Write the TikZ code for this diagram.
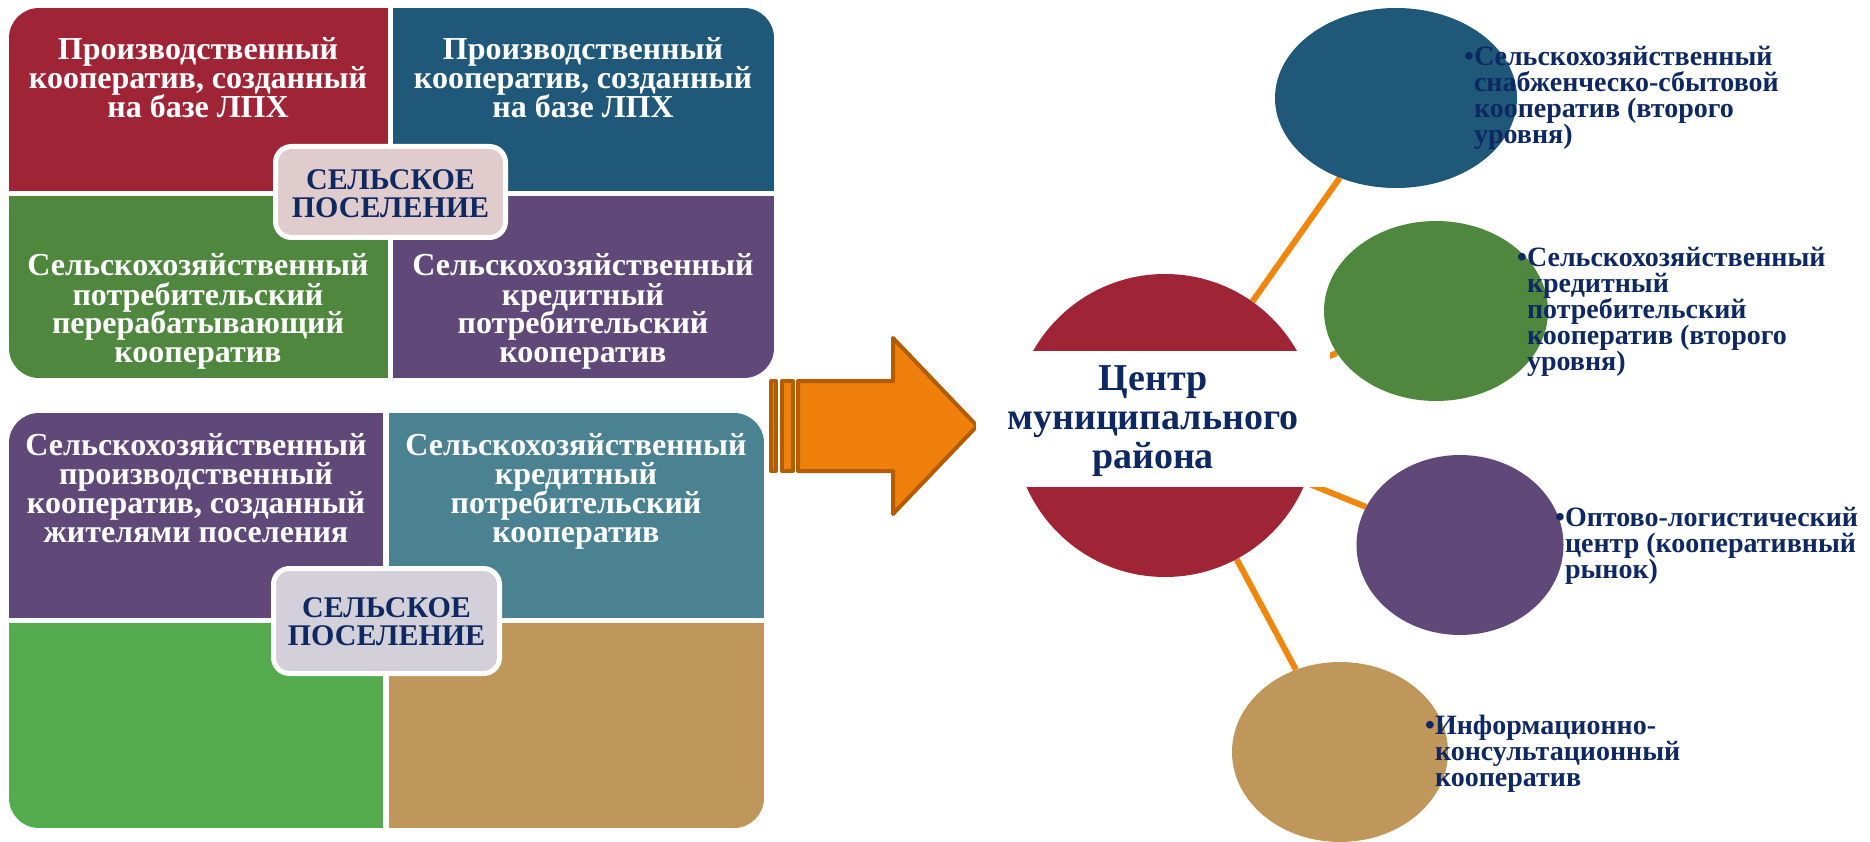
\documentclass[tikz,border=0pt]{standalone}
\usepackage{fontspec}
\setmainfont{Liberation Serif}
\usetikzlibrary{shapes.geometric}
\pgfdeclarelayer{bg}
\pgfsetlayers{bg,main}
\definecolor{cRed}{HTML}{9F2536}
\definecolor{cBlue}{HTML}{1F5879}
\definecolor{cGreen}{HTML}{4F873F}
\definecolor{cPurple}{HTML}{604878}
\definecolor{cTeal}{HTML}{4B8291}
\definecolor{cLime}{HTML}{55AC4E}
\definecolor{cTan}{HTML}{C0975A}
\definecolor{cPink}{HTML}{E1CCCD}
\definecolor{cGray}{HTML}{D3D0D9}
\definecolor{cNavy}{HTML}{0E2862}
\definecolor{cOrange}{HTML}{F0860C}
\definecolor{cArrow}{HTML}{EF800B}
\definecolor{cArrowEdge}{HTML}{B45C04}
\newcommand\ctext[1]{\vtop{\lineskiplimit=-100pt\lineskip=0pt\halign{\hfil##\hfil\cr#1\crcr}}}
\newcommand\ltext[1]{\vtop{\lineskiplimit=-100pt\lineskip=0pt\halign{##\hfil&##\hfil\cr#1\crcr}}}
\newcommand\lift[2]{\raisebox{#1}[0pt][0pt]{#2}}
\begin{document}
\begin{tikzpicture}[x=1pt,y=-1pt,
  boxtxt/.style={text=white,font=\bfseries\fontsize{32}{29}\selectfont,inner sep=0pt,anchor=base},
  lbl/.style={draw=white,line width=5pt,rounded corners=16pt,inner sep=0pt,text=cNavy,font=\bfseries\fontsize{30}{28}\selectfont},
  bubble/.style={ellipse,inner sep=0pt,minimum height=180pt},
  rtxt/.style={text=cNavy,font=\bfseries\fontsize{28}{26}\selectfont,inner sep=0pt,anchor=base west},
  conn/.style={draw=cOrange,line width=6pt},
  arr/.style={fill=cArrow,draw=cArrowEdge,line width=4pt,line join=round}]
\useasboundingbox (0,0) rectangle (1870,842);

% ---------- top group ----------
\begin{scope}
\clip[rounded corners=30pt] (9,8) rectangle (774,378);
\fill[cRed] (9,8) rectangle (388,191);
\fill[cBlue] (393,8) rectangle (774,191);
\fill[cGreen] (9,196) rectangle (388,378);
\fill[cPurple] (393,196) rectangle (774,378);
\end{scope}
\node[boxtxt] (a1) at (198,60) {\ctext{Производственный\cr кооператив, созданный\cr на базе ЛПХ}};
\node[boxtxt] (a2) at (583,60) {\ctext{Производственный\cr кооператив, созданный\cr на базе ЛПХ}};
\node[boxtxt] (a3) at (198,276) {\ctext{Сельскохозяйственный\cr потребительский\cr перерабатывающий\cr кооператив}};
\node[boxtxt] (a4) at (583,276) {\ctext{Сельскохозяйственный\cr кредитный\cr потребительский\cr кооператив}};
\node[lbl,fill=cPink,minimum width=230pt,minimum height=91pt] (s1) at (390.5,192) {\lift{2pt}{\ctext{СЕЛЬСКОЕ\cr ПОСЕЛЕНИЕ}}};

% ---------- bottom group ----------
\begin{scope}
\clip[rounded corners=30pt] (9,413) rectangle (764,828);
\fill[cPurple] (9,413) rectangle (383,618);
\fill[cTeal] (389,413) rectangle (764,618);
\fill[cLime] (9,623) rectangle (383,828);
\fill[cTan] (389,623) rectangle (764,828);
\end{scope}
\node[boxtxt] (b1) at (196,455) {\ctext{Сельскохозяйственный\cr производственный\cr кооператив, созданный\cr жителями поселения}};
\node[boxtxt] (b2) at (576,455) {\ctext{Сельскохозяйственный\cr кредитный\cr потребительский\cr кооператив}};
\node[lbl,fill=cGray,minimum width=226pt,minimum height=105pt] (s2) at (386.5,621) {\lift{4pt}{\ctext{СЕЛЬСКОЕ\cr ПОСЕЛЕНИЕ}}};

% ---------- arrow ----------
\draw[arr] (771,381) rectangle (776,471);
\draw[arr] (782,381) rectangle (793,471);
\draw[arr] (798,381) -- (893,381) -- (893,338) -- (977,426) -- (893,514) -- (893,471) -- (798,471) -- cycle;

% ---------- right side ----------
\node[circle,fill=cRed,inner sep=0pt,minimum size=303pt] (ctr) at (1165,425.5) {};
\node[bubble,fill=cBlue,minimum width=242pt] (e1) at (1396,98) {};
\node[bubble,fill=cGreen,minimum width=224pt] (e2) at (1436,311) {};
\node[bubble,fill=cPurple,minimum width=207pt] (e3) at (1460,545) {};
\node[bubble,fill=cTan,minimum width=216pt] (e4) at (1340,752) {};
\begin{pgfonlayer}{bg}
\draw[conn] (ctr) -- (e1);
\draw[conn] (ctr) -- (e2);
\draw[conn] (ctr) -- (e3);
\draw[conn] (ctr) -- (e4);
\end{pgfonlayer}
\node[fill=white,inner sep=0pt,minimum width=354pt,minimum height=136pt,text=cNavy,font=\bfseries\fontsize{38}{39}\selectfont] (band) at (1153,419) {\lift{29pt}{\ctext{Центр\cr муниципального\cr района}}};

\node[rtxt] (r1) at (1464,66) {\ltext{•&Сельскохозяйственный\cr&снабженческо-сбытовой\cr&кооператив (второго\cr&уровня)}};
\node[rtxt] (r2) at (1517,266) {\ltext{•&Сельскохозяйственный\cr&кредитный\cr&потребительский\cr&кооператив (второго\cr&уровня)}};
\node[rtxt] (r3) at (1555,526) {\ltext{•&Оптово-логистический\cr&центр (кооперативный\cr&рынок)}};
\node[rtxt] (r4) at (1425,734) {\ltext{•&Информационно-\cr&консультационный\cr&кооператив}};
\end{tikzpicture}
\end{document}
